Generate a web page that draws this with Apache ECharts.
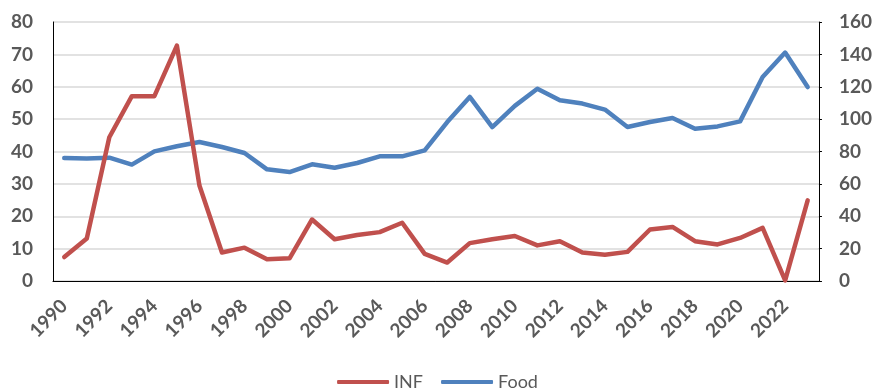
<!DOCTYPE html>
<html>
<head>
<meta charset="utf-8">
<script src="https://cdn.jsdelivr.net/npm/echarts@6/dist/echarts.min.js"></script>
<style>
  html, body { margin: 0; padding: 0; background: #fff; }
  #chart { width: 875px; height: 391px; }
</style>
</head>
<body>
<div id="chart"></div>
<script>
// Years on the category axis
const years = [];
for (let y = 1990; y <= 2023; y++) years.push(String(y));

// Inflation (left axis)
const inf = [7.4, 13.1, 44.4, 57.1, 57.1, 72.7, 29.5, 8.8, 10.3, 6.7,
             7.0, 19.0, 12.9, 14.2, 15.1, 18.0, 8.4, 5.7, 11.7, 12.9,
             13.9, 11.0, 12.3, 8.8, 8.1, 9.0, 15.9, 16.7, 12.3, 11.3,
             13.3, 16.4, 0.2, 24.9];

// Food index (right axis)
const food = [76.0, 75.6, 76.2, 71.9, 80.1, 83.2, 85.9, 82.8, 79.1, 69.0,
              67.3, 72.1, 70.0, 72.9, 77.0, 77.0, 80.7, 98.2, 113.7, 95.1,
              108.2, 118.8, 111.6, 109.6, 105.9, 95.1, 98.2, 100.7, 94.1, 95.5,
              98.6, 126.0, 141.1, 119.8];

const FONT = 'Lato, "Liberation Sans", sans-serif';
const GRAY = '#595959';
const RED = '#C0504D';
const BLUE = '#4F81BD';

const chart = echarts.init(document.getElementById('chart'), null, { renderer: 'canvas' });

chart.setOption({
  animation: false,
  backgroundColor: '#fff',
  grid: { left: 53, right: 52, top: 22, bottom: 110, containLabel: false },
  legend: {
    bottom: -5,
    left: 'center',
    itemWidth: 52,
    itemHeight: 4,
    itemGap: 18,
    icon: 'roundRect',
    textStyle: { fontFamily: FONT, fontSize: 18, color: GRAY },
    data: ['INF', 'Food']
  },
  xAxis: {
    type: 'category',
    data: years,
    boundaryGap: true,
    axisLine: { lineStyle: { color: '#000', width: 1 } },
    axisTick: { show: false },
    axisLabel: {
      interval: 1,
      rotate: 45,
      margin: 22,
      fontFamily: FONT,
      fontWeight: 'bold',
      fontSize: 19,
      color: GRAY
    },
    splitLine: { show: false }
  },
  yAxis: [
    {
      type: 'value',
      min: 0, max: 80, interval: 10,
      position: 'left',
      axisLine: { show: true, lineStyle: { color: '#000', width: 1 } },
      axisTick: { show: false },
      axisLabel: { margin: 20, fontFamily: FONT, fontWeight: 'bold', fontSize: 19, color: GRAY },
      splitLine: { show: true, lineStyle: { color: '#d9d9d9', width: 1.5 } }
    },
    {
      type: 'value',
      min: 0, max: 160, interval: 20,
      position: 'right',
      axisLine: { show: true, lineStyle: { color: '#000', width: 1 } },
      axisTick: { show: true, length: 3, inside: false, lineStyle: { color: '#000' } },
      axisLabel: { margin: 20, fontFamily: FONT, fontWeight: 'bold', fontSize: 19, color: GRAY },
      splitLine: { show: false }
    }
  ],
  series: [
    {
      name: 'INF',
      type: 'line',
      yAxisIndex: 0,
      data: inf,
      symbol: 'none',
      lineStyle: { color: RED, width: 4.5, cap: 'round', join: 'round' },
      itemStyle: { color: RED },
      z: 3
    },
    {
      name: 'Food',
      type: 'line',
      yAxisIndex: 1,
      data: food,
      symbol: 'none',
      lineStyle: { color: BLUE, width: 4.5, cap: 'round', join: 'round' },
      itemStyle: { color: BLUE },
      z: 2
    }
  ]
});
</script>
</body>
</html>
